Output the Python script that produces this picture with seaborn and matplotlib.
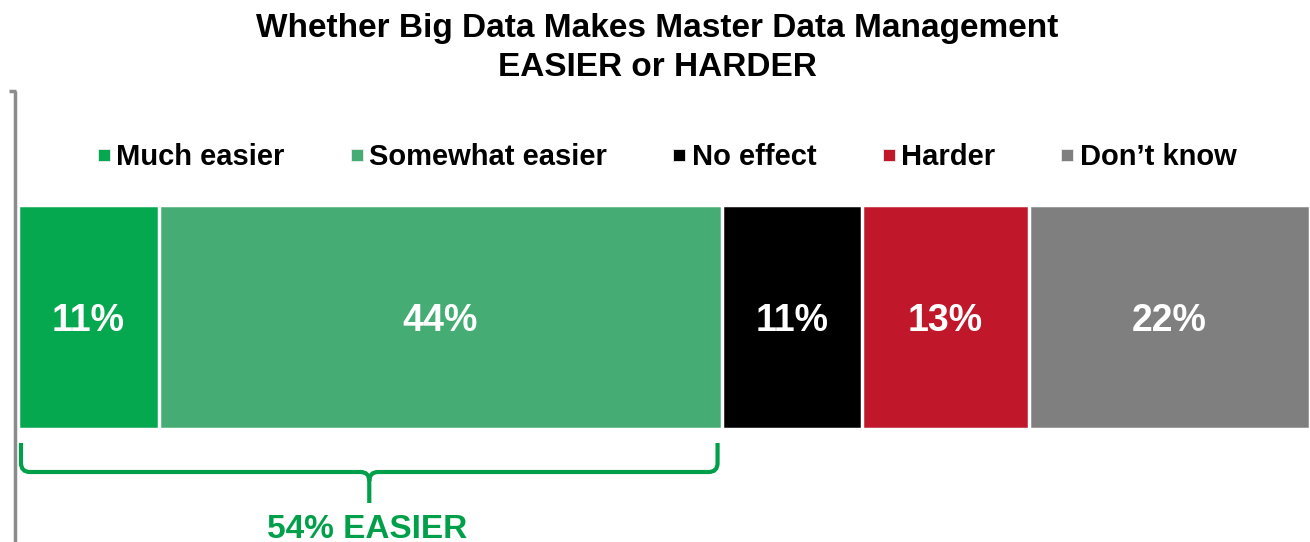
import numpy as np
import pandas as pd
import matplotlib.pyplot as plt
import matplotlib.lines as mlines
from matplotlib.path import Path
import matplotlib.patches as mpatches
import seaborn as sns

sns.set_theme(style='white')
plt.rcParams['font.family'] = ['Liberation Sans', 'DejaVu Sans']
plt.rcParams['text.color'] = 'black'

categories = ['Much easier', 'Somewhat easier', 'No effect', 'Harder', 'Don\u2019t know']
values = [11, 44, 11, 13, 22]
colors = ['#05A84F', '#45AD73', '#000000', '#C0172B', '#7F7F7F']
title = 'Whether Big Data Makes Master Data Management\nEASIER or HARDER'
easier_label = '54% EASIER'

W, H = 1310, 542
fig = plt.figure(figsize=(W / 100, H / 100), dpi=100)

# overlay axes in pixel coordinates
ov = fig.add_axes([0, 0, 1, 1])
ov.set_xlim(0, W)
ov.set_ylim(H, 0)
ov.axis('off')

# bar axes
bx = fig.add_axes([18 / W, (H - 429) / H, 1292 / W, 224 / H])
cum = np.cumsum(values)
df = pd.DataFrame({'cat': categories, 'val': values, 'cum': cum, 'color': colors})
for i in range(len(df) - 1, -1, -1):
    sns.barplot(x=[df['cum'][i]], y=['all'], orient='h', color=df['color'][i],
                width=1.0, edgecolor='white', linewidth=2.5, saturation=1, ax=bx)
bx.set_xlim(0, cum[-1])
bx.set_ylim(0.5, -0.5)
bx.axis('off')
starts = cum - np.array(values)
for s, v in zip(starts, values):
    bx.text(s + v / 2, 0.02, f'{v}%', color='white', fontsize=27, fontweight='bold',
            ha='center', va='center')

# left axis line
ov.plot([15, 15], [91, H], color='#8C8C8C', lw=2.5, solid_capstyle='butt')
ov.plot([9, 16], [91, 91], color='#8C8C8C', lw=2.5, solid_capstyle='butt')

# bracket under the EASIER segments
x0 = 18 + 1292 * 0 / cum[-1] + 3
x1 = 18 + 1292 * cum[1] / cum[-1] - 4
xm = (x0 + x1) / 2
yt, yh, yb, r = 443, 472, 503, 9
verts = [(x0, yt), (x0, yh - r), (x0, yh), (x0 + r, yh),
         (xm - r, yh), (xm, yh), (xm, yh + r), (xm, yb),
         (xm, yh + r), (xm, yh), (xm + r, yh),
         (x1 - r, yh), (x1, yh), (x1, yh - r), (x1, yt)]
codes = [Path.MOVETO, Path.LINETO, Path.CURVE3, Path.CURVE3,
         Path.LINETO, Path.CURVE3, Path.CURVE3, Path.LINETO,
         Path.MOVETO, Path.CURVE3, Path.CURVE3,
         Path.LINETO, Path.CURVE3, Path.CURVE3, Path.LINETO]
ov.add_patch(mpatches.PathPatch(Path(verts, codes), fill=False, edgecolor='#00A04A', lw=3))
ov.text(xm - 2, 529, easier_label, color='#00A04A', fontsize=24, fontweight='bold',
        ha='center', va='center')

# title
ov.text(657, 48, title, ha='center', va='center', fontsize=24, fontweight='bold',
        linespacing=1.3, color='black')

# legend
handles = [mlines.Line2D([], [], marker='s', ls='', markersize=8, color=c,
                         markeredgecolor='#eeeeee', markeredgewidth=0.6) for c in colors]
leg = fig.legend(handles, categories, loc='center', bbox_to_anchor=(667 / W, 1 - 157 / H),
                 ncol=5, frameon=False, handlelength=0.45, handletextpad=0.2,
                 columnspacing=2.25, prop={'size': 21, 'weight': 'bold'})
for t in leg.get_texts():
    t.set_color('black')

fig.savefig('out.png', dpi=100)
